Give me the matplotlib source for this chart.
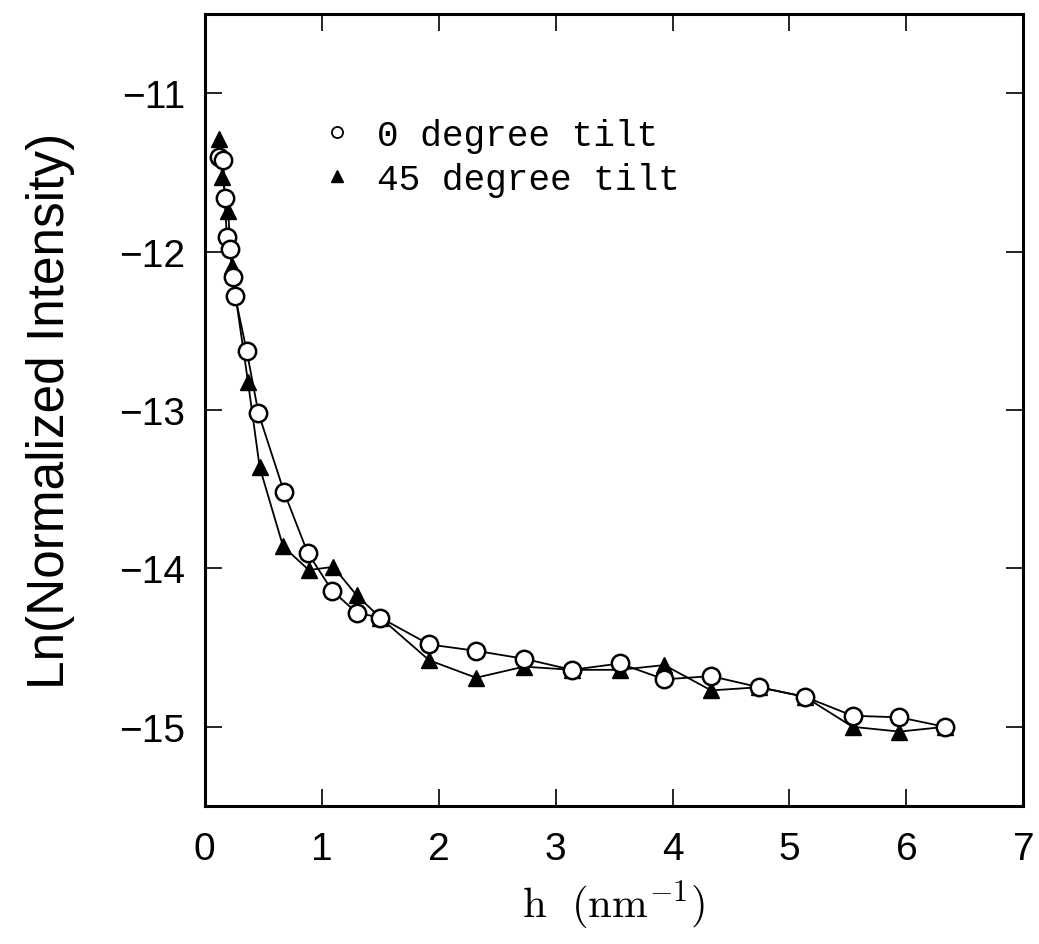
import matplotlib
matplotlib.use("Agg")
import matplotlib.pyplot as plt
from matplotlib.lines import Line2D
import numpy as np

# 0 degree tilt (open circles)
h_0deg = [0.12, 0.16, 0.17, 0.19, 0.22, 0.24, 0.26, 0.36, 0.46, 0.68, 0.88, 1.09, 1.30, 1.50,
          1.92, 2.32, 2.73, 3.14, 3.55, 3.93, 4.33, 4.74, 5.13, 5.54, 5.94, 6.33]
ln_0deg = [-11.40, -11.42, -11.66, -11.91, -11.98, -12.16, -12.28, -12.63, -13.02, -13.52, -13.90,
           -14.14, -14.28, -14.31, -14.48, -14.52, -14.57, -14.64, -14.60, -14.70, -14.68, -14.75,
           -14.81, -14.93, -14.94, -15.00]

# 45 degree tilt (filled triangles)
h_45deg = [0.12, 0.15, 0.20, 0.23, 0.26, 0.37, 0.47, 0.67, 0.89, 1.10, 1.30, 1.50,
           1.92, 2.32, 2.73, 3.14, 3.55, 3.93, 4.33, 4.74, 5.13, 5.54, 5.94, 6.33]
ln_45deg = [-11.29, -11.53, -11.74, -12.09, -12.26, -12.82, -13.36, -13.86, -14.01, -13.99, -14.17,
            -14.31, -14.58, -14.69, -14.62, -14.64, -14.64, -14.61, -14.77, -14.75, -14.81, -15.00,
            -15.03, -15.00]

x_ticks = [0, 1, 2, 3, 4, 5, 6, 7]
y_ticks = [-11, -12, -13, -14, -15]

plt.rcParams['mathtext.fontset'] = 'cm'

fig = plt.figure(figsize=(10.39, 9.45), dpi=100)
ax = fig.add_axes([0.197, 0.146, 0.788, 0.838])

ax.plot(h_0deg, ln_0deg, color="black", lw=1.3, marker="o", ms=12.5,
        mfc="white", mec="black", mew=1.8, zorder=3)
ax.plot(h_45deg, ln_45deg, color="black", lw=1.3, marker="^", ms=11,
        mfc="black", mec="black", zorder=2)

ax.set_xlim(0, 7)
ax.set_ylim(-15.5, -10.5)
ax.set_xticks(x_ticks)
ax.set_yticks(y_ticks)
ax.set_yticklabels(["\u221211", "\u221212", "\u221213", "\u221214", "\u221215"])
ax.tick_params(direction="in", length=12, width=1.2, top=True, right=True,
               labelsize=28)
ax.tick_params(axis="x", pad=18)
ax.tick_params(axis="y", pad=14)
for lab in ax.get_xticklabels() + ax.get_yticklabels():
    lab.set_family("Liberation Sans")
for s in ax.spines.values():
    s.set_linewidth(2.2)

ax.set_xlabel(r"$\mathrm{h\ \ (nm^{-1})}$", fontsize=31, labelpad=8)
ax.set_ylabel("Ln(Normalized Intensity)", fontsize=37, family="Liberation Sans",
              labelpad=32)

handles = [Line2D([], [], ls="none", marker="o", ms=8, mfc="white", mec="black", mew=1.3),
           Line2D([], [], ls="none", marker="^", ms=8, mfc="black", mec="black")]
ax.legend(handles, ["0 degree tilt", "45 degree tilt"], loc="upper left",
          bbox_to_anchor=(0.1, 0.91), frameon=False, handlelength=1.0,
          handletextpad=0.6, labelspacing=0.25,
          prop={"family": "Liberation Mono", "size": 26})

plt.savefig("out.png", dpi=100)
